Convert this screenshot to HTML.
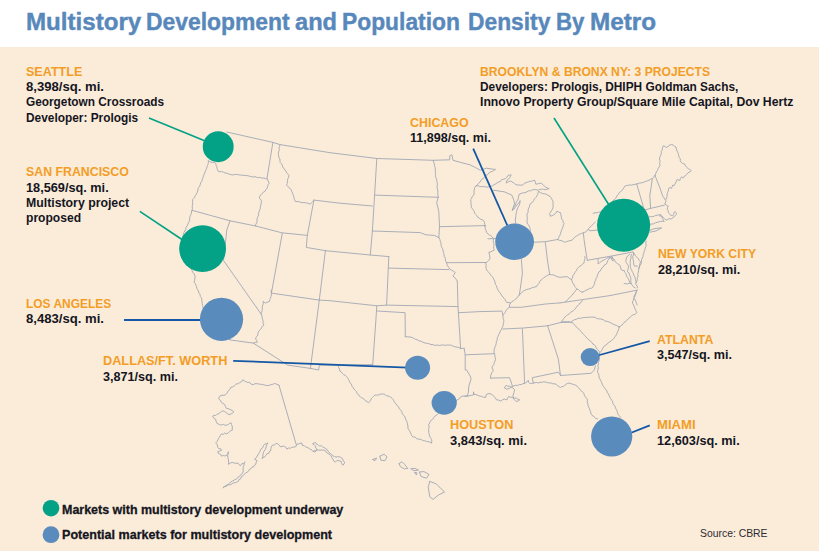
<!DOCTYPE html>
<html><head><meta charset="utf-8"><style>
html,body{margin:0;padding:0;}
body{width:819px;height:551px;overflow:hidden;position:relative;background:#fff;font-family:"Liberation Sans",sans-serif;}
#bg{position:absolute;left:0;top:47px;width:819px;height:504px;background:#faecd8;}
.t{position:absolute;white-space:nowrap;line-height:13px;transform-origin:0 0;}
.tw{position:absolute;top:10px;font-size:23px;font-weight:700;color:#5888bb;-webkit-text-stroke:0.4px #5888bb;white-space:nowrap;line-height:24px;transform-origin:0 0;}
svg{position:absolute;left:0;top:0;}
</style></head><body>
<div id="bg"></div>
<div class="tw" id="tw0" style="left:25.50px;transform:scaleX(1.0481)">Multistory</div><div class="tw" id="tw1" style="left:146.40px;transform:scaleX(0.9949)">Development</div><div class="tw" id="tw2" style="left:294.60px;transform:scaleX(1.0276)">and</div><div class="tw" id="tw3" style="left:342.20px;transform:scaleX(0.9925)">Population</div><div class="tw" id="tw4" style="left:467.70px;transform:scaleX(0.9916)">Density</div><div class="tw" id="tw5" style="left:556.00px;transform:scaleX(0.9663)">By</div><div class="tw" id="tw6" style="left:589.90px;transform:scaleX(1.0562)">Metro</div>
<svg width="819" height="551" viewBox="0 0 819 551">
<g fill="none" stroke="#a2a7b5" stroke-width="0.9" stroke-linejoin="round" stroke-linecap="round">
<path d="M226.8 132.0 L272.9 142.4 L280.1 144.6 L330.0 152.7 L376.8 158.5 L433.4 160.3 L449.7 159.8 L449.7 155.9 L451.9 154.8 L453.0 160.3 L460.6 162.4 L470.0 164.8 L475.4 167.5 L480.2 170.2 L486.3 168.2 L495.2 169.5 M495.2 169.5 L493.7 170.5 L492.3 171.5 L490.5 171.9 L489.0 172.9 L487.9 174.4 L486.3 175.3 L485.0 176.6 L483.8 178.1 L482.2 179.0 L481.0 180.4 L480.1 182.0 L478.6 183.2 L477.6 184.8 L476.1 185.9 M476.1 185.9 L477.8 185.8 L479.5 186.3 L481.2 186.8 L482.9 186.4 L484.6 186.7 L486.3 187.2 L488.2 186.9 L490.0 186.3 L491.8 186.1 L493.3 185.2 L495.1 184.2 L496.9 183.0 L498.7 182.0 L500.4 181.5 L501.4 179.9 L503.1 179.3 L505.3 178.7 L506.9 177.3 L508.0 175.4 L509.6 175.0 L511.2 174.9 L509.6 177.6 L508.5 179.2 L506.9 180.3 L506.3 183.1 L507.6 182.1 L509.2 181.5 L510.7 180.9 L511.9 182.1 L513.6 182.6 L514.7 183.8 L516.1 184.7 L517.9 185.0 L519.8 185.0 L521.6 185.3 L523.2 184.5 L524.7 183.3 L526.3 182.5 L528.1 182.0 L529.7 181.3 L531.4 181.3 L533.0 180.7 L534.7 180.3 L535.4 182.2 L535.8 184.2 L537.6 183.9 L539.4 183.4 L541.2 183.1 L543.0 184.6 L544.5 186.3 L545.8 187.3 L547.3 187.9 L548.8 188.5 M548.8 188.5 L547.3 189.3 L545.6 189.6 L543.4 189.3 L541.2 189.1 L539.5 189.6 L537.9 190.2 L535.8 189.6 L533.6 189.6 L531.9 190.0 L530.4 190.9 L528.5 190.8 L527.0 191.8 L524.9 192.7 L522.7 192.9 L521.1 193.5 L519.4 194.0 L518.6 196.1 L518.3 198.3 L517.8 199.9 L516.8 201.2 L516.1 202.7 L515.4 205.0 L514.0 207.0 L513.0 208.6 L512.3 210.3 L513.9 209.1 L515.1 207.6 L516.5 205.7 L517.8 203.8 L519.2 202.6 L520.0 201.0 M493.3 190.2 L504.2 191.8 L511.8 195.1 L514.0 200.5 L514.5 203.8 L513.4 207.0 L512.3 210.3 M520.0 201.0 L519.9 203.0 L519.4 204.9 L518.5 206.3 L517.9 207.7 L517.2 209.2 L516.6 211.4 L516.1 213.6 L515.9 215.8 L515.6 217.9 L515.3 220.1 L515.6 222.3 L515.1 224.2 L515.3 226.2 L515.0 228.1 L515.0 230.0 L515.2 231.6 L514.4 233.2 L514.3 234.8 L513.8 236.3 L514.0 238.0 M539.0 191.2 L538.0 192.7 L537.7 194.5 L536.8 196.1 L535.8 197.6 L534.5 198.9 L533.6 200.5 L532.3 202.5 L530.3 203.8 L529.6 205.6 L529.1 207.5 L528.1 209.2 L528.2 210.9 L527.9 212.6 L527.0 214.1 L527.0 215.8 L527.3 217.4 L527.2 219.1 L527.1 220.7 L527.0 222.3 L527.5 224.1 L529.0 225.4 L529.5 227.2 L530.3 228.8 L530.3 230.5 L530.0 232.2 L530.1 233.9 L530.1 235.6 L530.6 237.3 L530.5 239.0 L530.6 240.7 L530.5 242.4 M538.7 191.6 L540.5 192.7 L542.4 193.5 L544.5 193.8 L546.1 194.2 L547.5 195.0 L549.0 195.8 L550.3 196.7 L551.5 198.3 L552.2 200.1 L553.2 201.8 L552.9 203.6 L553.1 205.4 L553.1 207.2 L552.5 209.0 L551.6 210.5 L550.7 212.0 L549.6 213.4 L550.3 216.3 L552.1 215.6 L553.9 214.8 L555.7 213.3 L556.9 211.2 L558.6 212.1 L560.5 212.7 L560.8 214.3 L561.1 216.0 L561.4 217.6 L561.9 219.2 L563.0 220.5 L563.0 222.2 L564.1 223.5 L563.2 225.6 L562.7 227.9 L561.7 229.7 L561.0 231.7 L560.5 233.7 L559.9 235.2 L559.1 236.6 L558.6 238.2 L557.6 239.5 M522.0 242.8 L530.0 242.4 L545.2 241.7 L557.6 239.5 M557.6 239.5 L559.4 240.3 L561.3 240.6 L563.1 241.3 L564.8 242.4 L566.5 241.6 L568.4 241.0 L570.2 240.6 L572.1 240.2 L573.3 238.6 L574.7 237.4 L576.2 236.2 L577.9 235.2 L579.6 234.1 L581.5 233.6 L583.2 232.6 L585.2 232.2 L586.6 231.3 L587.6 230.0 L588.5 228.5 L589.7 227.4 L591.0 226.4 L592.3 224.9 L593.8 223.4 L595.3 222.1 M593.1 213.5 L595.0 212.7 L597.0 212.9 L598.9 212.1 L600.8 212.0 L602.4 211.0 L604.2 210.5 L606.0 210.0 L606.7 208.5 L607.7 207.2 L608.9 206.1 L609.9 204.8 L611.3 203.8 L611.8 202.2 L612.8 200.8 L614.1 199.8 L615.5 198.7 L616.3 197.1 L617.1 195.5 L618.5 194.3 L619.2 192.6 L620.7 191.5 L622.1 190.4 L623.1 189.0 L624.0 187.5 L625.0 186.0 L626.6 185.5 L628.2 185.3 L629.8 184.9 L631.5 185.1 L633.1 184.7 L634.8 184.6 L636.3 183.9 L638.0 183.8 L639.5 183.0 L641.3 182.9 L643.0 182.5 L644.6 181.8 L646.2 181.2 L647.8 180.7 L649.4 180.0 L650.9 179.0 L652.6 178.7 L653.7 177.2 L654.7 175.7 M588.8 229.3 L589.5 230.8 L597.5 230.1 M636.7 183.9 L640.0 195.3 L643.3 206.7 L644.9 210.0 M652.2 179.0 L651.4 185.5 L649.8 195.3 L650.6 208.4 M655.0 175.6 L660.1 188.3 L662.6 195.9 L665.2 199.7 M655.0 175.6 L655.7 173.8 L656.3 172.0 L657.5 170.5 L658.0 168.6 L659.1 167.0 L660.1 165.4 L659.7 163.8 L659.9 162.2 L660.0 160.6 L659.4 159.0 L659.8 157.1 L660.7 155.3 L661.3 153.4 L661.3 151.4 L662.4 149.6 L662.5 147.6 L663.3 145.7 L665.0 146.4 L666.4 147.6 L668.0 146.3 L669.7 145.2 L671.5 144.4 L673.1 145.0 L674.4 146.2 L676.0 147.0 L676.3 149.0 L677.0 150.9 L677.9 152.7 L678.4 154.3 L678.8 155.9 L679.2 157.5 L680.3 158.9 L680.3 160.7 L681.0 162.2 L682.7 163.5 L684.8 164.1 L685.5 165.8 L686.7 167.3 L688.1 168.6 L689.7 169.4 L691.2 170.5 L689.9 172.0 L688.0 172.8 L686.7 174.3 L685.6 175.7 L684.0 176.6 L683.0 178.1 L681.7 176.8 L680.4 178.5 L679.8 180.6 L677.2 179.4 L676.0 182.0 L675.1 183.9 L674.0 185.7 L672.8 185.0 L672.2 186.7 L671.5 188.3 L669.5 187.5 L668.5 189.0 L668.3 190.8 L667.5 192.6 L667.1 194.6 L667.0 196.4 L666.6 198.1 L665.8 199.7 L665.8 201.6 L665.2 203.5 M665.0 203.9 L666.4 205.3 L668.3 206.1 L667.5 207.6 L667.2 209.3 L668.2 210.6 L668.3 212.4 L669.3 213.7 L670.7 215.2 L672.6 215.9 L673.5 214.5 L673.9 212.9 L674.8 211.5 L677.0 213.7 L675.5 215.1 L674.3 216.8 L672.6 218.0 L671.1 219.0 L669.2 218.7 L667.7 219.5 L666.1 220.2 L664.5 218.6 L662.8 217.0 L661.3 216.1 L659.6 215.9 M644.9 210.0 L650.6 208.4 L664.5 205.1 M646.0 217.5 L648.7 217.0 L650.4 216.6 L652.2 216.7 L653.9 216.3 L655.5 215.5 L657.2 215.2 L659.0 214.9 L660.7 214.8 M660.7 214.8 L661.7 216.3 L662.2 218.1 L663.3 219.6 L663.9 221.3 M646.5 225.7 L648.3 225.1 L650.1 224.2 L652.0 224.0 L653.8 223.8 L655.4 222.8 L657.2 222.3 L659.0 221.9 L660.7 221.3 L663.9 221.3 M648.0 231.0 L655.0 228.5 L661.7 227.8 L656.0 231.0 L649.8 232.2 M646.1 241.2 L645.7 243.0 L646.1 244.7 L646.0 246.5 L645.1 248.0 L644.9 249.8 L644.3 251.4 L643.8 253.1 L643.2 254.7 L643.1 256.5 L642.2 258.0 L641.6 259.6 L641.5 261.5 L641.3 263.3 L640.5 265.0 L639.3 266.6 L638.5 268.5 M632.9 252.0 L634.3 253.4 L635.0 255.3 L636.7 256.9 L638.3 258.5 L639.1 260.3 L640.5 261.8 L639.9 263.9 L639.4 266.1 L639.4 267.8 L638.8 269.4 L638.5 271.0 L638.3 272.7 L637.6 274.3 L638.3 276.0 L637.4 277.6 L637.2 279.2 L637.0 281.0 L636.1 282.5 M633.4 253.1 L633.5 254.9 L632.7 256.7 L632.9 258.5 L633.3 260.4 L633.6 262.3 L633.7 264.3 L634.5 266.1 L637.2 266.1 M631.8 254.2 L630.8 256.0 L631.1 258.0 L630.4 259.9 L630.2 261.8 L630.3 263.4 L630.4 265.1 L630.3 266.7 L630.7 268.3 L631.5 269.7 L632.1 271.3 L632.9 272.7 L633.7 274.1 L633.8 275.8 L635.1 277.0 L635.3 279.3 L636.1 281.4 L635.9 283.1 L636.0 284.8 L637.3 286.2 L637.2 287.9 M629.6 254.2 L628.4 255.6 L626.9 256.7 L626.3 258.5 L625.8 260.7 L626.3 262.9 L627.5 264.1 L628.2 265.5 L628.5 267.2 L628.0 269.4 L627.4 271.6 L629.0 272.9 L629.6 274.9 L630.3 276.6 L630.9 278.4 L630.7 280.3 L631.0 282.6 L631.8 284.7 L633.2 286.6 L635.1 287.9 M610.0 257.4 L611.5 258.3 L613.3 258.5 L614.6 260.0 L615.4 261.8 L616.7 263.1 L618.2 264.1 L619.8 265.1 L620.7 267.2 L620.9 269.4 L622.4 270.3 L624.2 270.5 L624.5 272.1 L625.8 273.3 L626.3 274.9 L626.7 276.5 L627.8 277.7 L628.5 279.2 L629.2 280.7 L629.6 282.3 L630.7 283.6 L629.1 283.3 L627.5 283.9 L625.8 283.7 L624.2 283.6 M598.1 259.0 L598.1 260.7 L598.2 262.4 L598.1 264.1 L599.6 262.6 L601.4 261.4 L603.2 260.3 L605.0 259.6 L606.4 258.2 L608.3 257.8 L610.2 257.2 L612.1 256.5 L612.8 258.4 L613.3 260.3 M587.3 260.3 L610.0 256.3 L632.9 252.0 M583.4 233.3 L584.1 240.0 L586.0 252.7 L587.3 260.3 M584.8 256.5 L585.1 258.1 L584.6 259.7 L584.2 261.3 L584.1 262.9 L582.4 264.2 L580.9 265.7 L579.0 266.7 L577.4 268.4 L576.5 270.5 L575.0 272.3 L574.0 274.3 L572.8 275.8 L572.6 277.9 L571.4 279.4 M571.4 279.4 L572.2 281.2 L572.7 283.2 L574.0 284.4 L574.4 286.2 L575.7 287.4 L576.5 288.9 L578.1 289.4 L579.4 290.4 L580.6 291.6 L582.2 292.1 M582.2 292.1 L584.2 291.5 L585.9 290.2 L587.9 289.5 L589.5 288.4 L591.5 288.2 L593.0 287.0 L593.7 285.4 L594.5 283.9 L594.6 282.1 L595.6 280.6 L595.9 278.7 L597.0 277.2 L597.4 275.4 L598.1 273.7 L598.7 272.0 L600.3 271.0 L601.1 269.4 L601.9 267.9 L603.4 266.8 L604.2 265.1 L605.9 264.4 L607.0 262.9 L607.6 260.8 L608.9 259.0 L610.8 257.1 L611.5 259.2 L612.7 261.0 M576.5 289.5 L571.4 295.9 L565.1 302.2 M507.3 302.4 L508.9 302.6 L510.5 302.9 L511.8 301.7 L513.4 300.8 L514.8 299.7 L516.5 298.5 L517.6 296.6 L519.2 295.3 L520.4 293.6 L522.1 292.4 L523.5 290.9 L525.1 290.2 L526.6 289.5 L528.3 289.0 L530.0 288.8 L531.5 287.9 L533.2 287.4 L534.9 287.0 L536.6 286.6 L537.5 284.9 L538.9 283.5 L539.7 281.6 L540.9 280.1 L542.4 279.0 L543.7 277.7 L545.3 276.8 L546.7 275.9 L548.0 274.9 L549.7 274.6 L551.5 274.7 L553.4 274.9 L555.1 275.7 L556.7 276.5 L558.4 276.9 L560.0 277.5 L561.7 277.0 L563.4 277.0 L565.1 276.8 L567.6 276.8 L569.3 278.4 L571.4 279.4 M545.3 242.0 L547.4 260.0 L549.7 274.6 M521.4 259.4 L522.4 273.5 L520.3 288.8 L519.2 295.3 M509.4 307.3 L521.4 307.3 L545.3 304.0 L560.0 302.9 M582.3 300.7 L581.5 302.2 L579.9 303.0 L579.1 304.4 L578.0 305.6 L576.6 306.6 L575.8 308.1 L574.7 309.3 L573.6 310.5 L572.0 311.5 L570.4 312.4 L569.3 313.9 L567.6 314.7 L566.2 315.9 L564.9 317.1 L563.7 318.4 L562.8 319.9 L561.7 321.2 L560.5 322.5 L562.2 321.9 L563.9 321.7 L565.7 321.5 L567.5 321.8 L569.2 321.4 M502.9 329.0 L523.5 328.0 L547.5 325.8 L560.5 322.5 L571.4 322.2 M570.3 322.5 L571.7 321.4 L573.2 320.5 L574.7 319.6 L576.6 319.3 L578.0 318.2 L579.7 318.4 L581.4 318.1 L583.1 317.6 L584.7 317.5 L586.4 317.4 L588.1 317.4 L589.8 317.0 L591.5 317.2 L593.2 317.1 L595.0 317.3 L596.6 318.4 L598.3 318.8 L600.1 318.9 L601.9 319.3 L603.6 319.8 L604.9 321.1 L606.7 321.2 L608.3 321.9 L610.0 322.3 L611.4 323.3 L613.0 324.1 L614.6 324.8 L616.2 325.3 L617.7 326.2 L619.3 326.9 M571.4 322.2 L572.9 323.1 L574.0 324.5 L575.3 325.6 L576.3 327.0 L577.7 328.0 L579.0 329.2 L580.0 330.6 L581.3 331.7 L582.3 333.1 L583.4 334.3 L584.7 335.5 L585.7 336.8 L587.0 337.9 L588.1 339.1 L589.2 340.4 L590.7 341.3 L591.9 342.4 L592.7 344.0 L594.4 344.7 L595.4 346.1 L596.3 347.9 L597.4 349.5 L599.0 350.8 L599.7 352.7 M599.7 352.7 L601.1 351.2 L602.2 349.6 L603.1 347.8 L604.1 346.1 L605.7 345.2 L607.2 344.2 L608.3 342.6 L609.9 341.8 L611.4 340.7 L612.8 339.6 L614.1 338.1 L615.2 336.5 L616.3 334.9 L617.1 333.1 L617.7 331.5 L618.5 329.9 L618.9 328.2 L619.3 326.5 L619.3 326.9 M636.7 291.0 L635.9 292.5 L635.7 294.2 L635.2 295.8 L634.5 297.3 L633.7 298.8 L633.3 300.4 L632.4 301.8 L632.7 303.5 L633.6 304.9 L634.1 306.5 L634.8 308.1 L635.3 309.6 L636.1 311.1 L636.7 312.7 L635.3 314.2 L633.3 314.7 L631.7 315.8 L630.2 317.1 L629.0 318.2 L627.8 319.3 L626.5 320.3 L625.6 321.7 L624.0 322.4 L623.1 323.8 L622.0 325.0 L620.7 326.0 L619.3 326.9 M560.0 302.9 L610.0 295.6 L637.2 290.1 M637.2 290.1 L636.2 291.7 L635.8 293.5 L634.5 295.0 L633.9 296.7 L634.1 298.5 L635.2 300.0 L635.9 301.6 L636.5 303.3 L637.1 304.9 M522.4 328.7 L524.6 383.1 M547.5 325.4 L558.4 359.2 L560.5 375.5 M533.3 383.1 L532.2 377.7 L558.4 372.2 L560.5 375.5 L591.0 373.3 L594.3 370.1 L595.4 365.7 M465.0 396.5 L466.7 396.3 L468.4 396.1 L470.1 395.6 L471.8 395.3 L473.5 394.8 L473.5 391.8 L474.0 394.4 L475.9 394.6 L477.8 395.2 L479.5 396.1 L481.5 396.3 L483.5 397.2 L485.5 397.4 L486.4 394.4 L488.9 393.5 L490.7 394.0 L492.4 394.8 L493.6 396.1 L494.9 397.4 L496.6 399.9 L498.9 400.1 L500.9 401.2 L502.4 399.8 L504.3 399.1 L506.9 399.9 L507.6 398.1 L508.6 396.5 L510.3 397.1 L512.0 397.4 L514.1 398.0 L516.3 398.2 L517.9 399.2 L519.7 399.9 L517.1 401.6 L515.3 400.5 L513.7 399.1 L513.3 397.3 L512.9 395.6 L513.5 393.9 L514.1 392.2 L514.6 389.7 L512.9 387.9 L511.1 387.1 L509.4 386.2 L507.6 386.1 L506.0 385.4 L504.3 387.9 L506.9 389.2 L509.2 388.5 L511.2 387.1 L513.2 386.0 L515.4 385.4 L517.6 385.4 L519.7 384.5 L521.5 384.6 L523.0 383.5 L524.8 383.7 L525.9 382.5 L527.3 381.6 L528.2 380.3 L528.7 382.2 L529.9 383.7 L531.6 383.4 L533.3 383.1 L535.0 382.7 L536.7 382.5 L538.5 383.0 L540.1 382.2 L541.9 382.4 L543.6 381.8 L545.3 382.0 L547.1 382.4 L548.9 383.1 L550.8 382.8 L552.5 383.7 L554.4 383.8 L556.2 384.2 L557.4 385.6 L559.0 386.5 L560.5 387.5 L561.8 386.6 L563.6 386.4 L564.8 385.3 L566.1 384.2 L567.5 383.4 L569.2 383.1 L570.9 383.6 L572.5 384.2 L574.2 384.6 L575.8 385.3 L577.3 386.4 L578.5 387.8 L579.8 389.1 L580.8 390.7 L582.3 391.8 L583.8 393.2 L584.3 395.2 L585.3 396.9 L586.7 398.4 L587.5 400.1 L587.2 402.0 L587.8 403.7 L588.0 405.4 L588.8 407.1 L589.5 408.7 L590.0 410.3 L590.5 411.9 L591.0 413.6 L592.1 415.4 L593.9 416.6 L595.4 418.0 L597.6 419.0 M599.7 352.7 L599.6 354.3 L599.4 356.0 L599.4 357.6 L599.4 359.2 L599.1 360.9 L598.3 362.4 L598.6 364.1 L597.8 365.7 L598.3 367.4 L598.1 369.0 L597.7 370.6 L597.5 372.2 L598.4 373.7 L598.9 375.3 L599.0 377.0 L599.7 378.6 L600.4 380.1 L601.2 381.6 L601.9 383.1 L602.5 384.8 L603.4 386.4 L604.6 387.8 L605.4 389.4 L606.9 390.7 L607.3 392.5 L608.4 394.0 L609.2 395.5 L609.8 397.2 L610.6 398.7 L611.7 400.1 L612.7 401.6 L612.8 403.5 L613.9 404.9 L615.0 406.3 L615.5 408.0 L616.3 409.5 L617.1 411.0 L617.6 412.8 L618.1 414.4 L619.3 415.8 L620.8 417.6 M490.6 378.1 L509.4 377.7 L511.2 382.0 L512.4 386.2 M484.5 225.7 L485.2 227.4 L485.4 229.2 L486.2 230.9 L486.6 232.7 L487.9 233.8 L489.3 234.8 L490.7 235.7 L492.1 236.8 L493.2 238.1 L493.6 239.8 L493.2 241.6 L493.7 243.2 L494.1 244.9 L493.6 246.7 L493.7 248.4 L494.3 250.1 L492.5 250.9 L490.8 251.9 L488.8 252.3 L489.3 253.9 L489.7 255.5 L489.8 257.2 L489.9 258.8 L488.7 260.5 L487.2 261.9 L485.6 263.2 L486.1 264.8 L486.0 266.5 L486.0 268.1 L486.6 269.7 L487.5 271.2 L488.8 272.4 L489.9 273.8 L490.9 275.2 L492.1 276.5 L493.1 277.9 L493.8 279.4 L494.7 280.9 L495.1 282.5 L495.2 284.3 L496.5 285.6 L496.8 287.2 L497.4 288.8 L498.2 290.3 L498.9 291.8 L500.3 292.9 L501.2 294.4 L501.9 295.9 L503.2 297.1 L504.1 298.4 L505.2 299.8 L505.9 301.4 L507.3 302.4 M510.5 302.9 L509.6 305.0 L509.4 307.3 L507.5 308.7 L506.1 310.5 L505.4 312.2 L504.3 313.7 L502.9 314.9 L503.0 316.6 L503.0 318.2 L503.7 319.8 L503.9 321.4 L503.3 323.3 L503.3 325.3 L502.4 327.1 L501.8 329.0 L500.4 330.9 L499.6 333.1 L498.7 334.7 L498.0 336.5 L497.2 338.2 L497.2 340.1 L496.3 341.8 L496.2 343.6 L495.7 345.4 L495.0 347.0 L494.4 348.7 L494.1 350.5 L494.0 352.3 L494.5 354.0 L494.9 355.7 L495.1 357.5 L495.7 359.2 L495.0 361.0 L494.2 362.7 L493.9 364.6 L492.5 366.1 L492.0 367.9 L493.2 370.0 L492.8 371.6 L491.6 372.8 L491.1 374.4 L490.6 376.0 L490.6 378.1 M488.0 238.8 L497.0 238.6 M458.4 312.7 L480.0 311.6 L501.9 311.1 L502.9 314.9 M465.2 354.8 L494.1 353.7 M464.1 348.3 L465.2 354.8 L465.2 370.0 L466.7 370.0 L470.6 376.8 L471.0 379.4 L468.8 386.2 L468.4 392.2 L467.6 395.6 M405.3 336.7 L407.2 336.8 L409.0 336.9 L410.9 337.2 L412.7 337.7 L414.3 338.6 L415.9 339.5 L417.7 339.9 L419.2 341.0 L421.0 341.2 L422.5 342.1 L424.1 342.7 L425.8 343.2 L427.6 343.5 L429.3 343.8 L431.0 344.6 L432.9 344.5 L434.5 345.4 L436.2 345.1 L438.0 345.2 L439.7 345.5 L441.5 345.1 L443.2 344.9 L444.9 345.3 L446.7 345.1 L448.4 345.0 L450.2 345.1 L451.9 345.4 L453.5 346.4 L455.3 346.9 L457.2 347.2 L459.0 347.6 L460.6 348.6 L462.3 348.4 L464.1 348.3 M458.4 312.7 L460.6 348.6 M457.3 281.2 L458.0 306.6 L458.4 312.7 M319.3 300.1 L330.0 300.7 L376.8 305.8 L386.6 305.1 L458.0 306.6 M376.8 311.0 L405.1 312.7 L405.3 336.7 M376.8 305.8 L375.9 320.0 L372.7 364.6 M310.4 368.4 L318.6 370.0 L319.4 365.1 L338.2 365.1 L372.7 364.6 M338.2 365.1 L338.6 367.2 L339.5 369.1 L340.0 371.2 L341.4 372.1 L342.5 373.5 L343.7 374.7 L345.4 375.3 L346.5 376.6 L347.8 377.9 L348.5 379.6 L349.4 381.2 L350.1 382.9 L351.4 384.2 L351.9 386.1 L353.1 387.5 L354.0 389.1 L355.3 390.4 L356.6 391.7 L357.1 393.6 L358.7 394.6 L359.6 396.2 L360.9 397.5 L362.6 398.2 L364.1 399.2 L365.3 400.7 L367.0 401.5 L368.3 402.7 L369.7 401.7 L370.5 400.2 L371.3 398.7 L372.4 397.5 L373.7 396.3 L374.8 395.1 L376.6 395.0 L378.3 395.1 L380.0 394.1 L381.7 394.1 L383.5 394.0 L385.1 394.5 L386.2 395.8 L388.0 395.9 L389.5 396.6 L390.9 397.3 L392.2 398.4 L393.4 399.8 L394.1 401.5 L395.2 403.0 L396.4 404.3 L397.3 405.9 L398.8 407.1 L399.4 408.9 L400.8 410.1 L401.8 411.6 L402.2 413.5 L403.3 415.0 L404.7 416.2 L405.3 418.0 L405.9 419.8 L406.8 421.5 L407.4 423.3 L407.7 425.1 L408.0 426.9 L408.0 428.7 L409.0 430.0 L409.9 431.3 L410.5 432.9 L411.2 434.3 L411.8 435.8 L413.2 437.0 L415.2 437.1 L416.5 438.6 L418.3 439.1 L420.0 439.2 L421.6 439.8 L423.2 440.6 L424.9 440.7 L426.4 441.5 L428.2 441.7 L429.9 442.0 L431.4 442.9 M467.6 395.6 L465.7 395.8 L463.8 396.1 L461.9 396.2 L460.4 397.0 L459.5 398.6 L458.1 399.5 L456.5 400.2 L455.4 401.6 L454.3 402.9 L452.8 403.5 L451.2 404.1 L449.9 405.1 L448.9 406.6 L447.6 407.5 L446.3 408.4 L444.5 408.7 L443.5 410.1 L441.9 410.6 L440.5 411.5 L439.4 412.8 L438.0 413.6 L436.8 415.0 L435.1 415.9 L434.0 417.4 L432.9 419.0 L431.4 420.1 L430.3 421.4 L429.7 423.1 L428.7 424.4 L428.9 426.0 L429.1 427.6 L428.5 429.3 L428.7 430.9 L428.7 432.6 L429.4 434.2 L429.5 435.9 L430.3 437.4 L431.5 439.5 L431.9 441.8 L431.4 442.9 M388.8 256.6 L388.3 268.1 L386.6 305.1 M388.3 268.1 L448.6 269.6 M325.4 250.7 L370.3 255.0 L388.8 256.6 M372.4 231.1 L370.3 255.0 M372.4 231.0 L420.3 232.6 L425.8 234.8 L434.5 235.4 L438.8 237.6 M438.8 237.6 L439.8 239.3 L440.3 241.3 L441.0 243.1 L441.0 244.9 L441.5 246.7 L442.4 248.3 L443.0 250.0 L443.2 251.8 L443.7 253.3 L444.1 254.9 L444.2 256.6 L445.4 257.9 L445.3 259.7 L445.8 261.2 L446.5 262.7 L447.0 264.5 L447.9 266.1 L448.8 267.6 L449.7 269.2 L451.6 270.1 L453.4 271.2 L455.2 272.4 L454.2 274.1 L453.0 275.7 L453.9 277.2 L455.4 278.2 L456.4 279.7 L457.3 281.2 M446.5 262.7 L485.6 262.5 M439.5 226.7 L485.6 225.6 M438.2 197.3 L436.7 202.7 L438.8 211.4 L439.5 226.7 L438.8 237.6 M433.4 160.3 L433.5 162.1 L434.4 163.9 L434.5 165.7 L435.1 167.3 L435.4 169.0 L435.2 170.8 L435.6 172.5 L435.3 174.3 L435.6 175.9 L435.8 177.7 L436.7 179.3 L436.7 181.0 L437.2 182.6 L437.4 184.2 L437.2 185.9 L437.1 187.5 L437.5 189.1 L437.8 190.8 L437.8 192.4 L437.8 194.0 L437.9 195.7 L438.2 197.3 M374.6 195.1 L438.2 197.3 M376.8 158.5 L374.6 195.1 L372.4 231.0 M313.9 200.1 L340.0 203.2 L372.4 206.0 M476.1 185.9 L474.8 187.2 L474.4 188.9 L474.1 190.6 L474.1 192.3 L474.1 194.0 L473.5 195.6 L472.1 196.6 L471.7 198.2 L470.7 199.5 L470.8 201.1 L471.1 202.7 L470.9 204.4 L471.5 206.0 L471.4 207.6 L472.5 208.8 L473.3 210.2 L474.3 211.5 L474.6 213.2 L475.7 214.4 L476.8 215.7 L477.5 217.1 L479.1 217.9 L480.3 219.2 L482.1 219.7 L483.6 220.5 L484.5 222.3 L484.7 224.3 L485.6 226.0 M280.1 144.6 L279.6 146.2 L279.0 147.7 L279.4 149.5 L278.8 151.1 L278.4 152.7 L278.4 154.4 L278.7 156.0 L278.9 157.6 L279.9 159.1 L280.0 160.8 L280.1 162.4 L281.4 163.7 L282.3 165.2 L282.6 167.0 L283.9 168.3 L284.6 169.9 L286.0 171.1 L286.6 172.8 L287.9 174.0 L288.8 175.5 L288.7 177.2 L287.9 178.7 L287.4 180.3 L287.7 182.1 L287.0 183.6 L286.7 185.3 L288.1 186.8 L289.7 188.1 L291.0 189.7 L291.7 191.4 L292.6 193.0 L293.1 194.7 L293.7 196.4 L294.1 198.2 L294.6 199.9 L295.4 201.6 L297.1 201.6 L298.8 201.7 L300.5 202.2 L302.1 202.7 L303.9 202.5 L305.6 202.9 L307.3 203.0 L308.9 203.8 L310.6 203.8 L312.3 202.2 L313.9 200.5 M313.9 200.1 L307.3 235.4 L306.3 247.4 L325.4 250.7 M325.4 250.7 L319.3 300.1 L312.8 350.0 L310.4 368.4 M271.4 293.1 L319.3 300.1 M282.3 233.3 L271.4 293.1 M271.2 290.0 L271.4 293.1 L271.4 294.8 L271.0 296.5 L270.4 298.1 L269.9 299.7 L269.6 301.4 L267.5 302.1 L265.5 303.1 L263.1 301.4 L263.3 303.1 L263.0 304.7 L262.3 306.3 L262.3 308.0 L262.2 309.6 L262.0 311.2 L261.2 312.8 L261.4 314.5 L262.0 316.2 L262.2 318.0 L262.8 319.8 L263.1 321.5 L263.2 323.4 L263.9 325.1 L262.3 326.2 L261.5 328.0 L260.4 329.6 L259.0 330.8 L258.1 332.4 L257.9 334.2 L257.4 335.9 L256.0 337.2 L255.7 339.0 L256.6 340.6 L257.3 342.2 L255.2 342.4 L253.3 343.1 M230.0 220.8 L226.8 230.0 L223.5 260.5 L261.4 314.5 M230.0 339.9 L253.3 343.1 L287.6 365.1 L310.4 368.4 M192.0 210.3 L230.0 220.8 L255.7 226.0 L281.9 232.8 L307.3 235.4 M267.1 178.8 L268.2 180.9 L269.2 183.1 L268.1 184.6 L267.6 186.4 L267.1 188.2 L266.0 189.7 L264.9 191.4 L263.2 192.4 L261.8 193.7 L260.5 195.1 L259.6 196.6 L259.5 198.4 L260.9 199.8 L261.6 201.6 L261.1 203.2 L260.9 204.9 L260.4 206.5 L260.3 208.2 L259.8 209.8 L259.2 211.4 L258.5 212.9 L258.8 214.7 L258.1 216.2 L257.4 217.8 L256.9 219.4 L257.1 221.2 L256.8 222.8 L255.7 224.3 L255.7 226.0 M272.9 142.4 L267.1 177.7 M209.4 161.4 L210.9 162.3 L212.7 162.4 L214.4 162.6 L215.9 163.5 L216.0 165.1 L216.9 166.6 L216.9 168.2 L217.6 169.7 L218.1 171.2 L219.8 171.8 L221.8 171.6 L223.5 172.2 L225.0 173.0 L226.8 173.1 L228.4 173.8 L230.0 174.4 L231.7 174.8 L233.5 174.9 L235.3 174.4 L237.1 174.5 L238.8 174.9 L240.6 175.0 L242.4 175.3 L244.3 175.4 L246.1 175.4 L247.9 175.8 L249.7 176.2 L251.4 176.7 L253.1 177.1 L255.0 176.6 L256.7 177.3 L258.4 177.7 L260.2 177.3 L261.8 178.3 L263.7 177.9 L265.3 178.6 L267.1 178.8 M208.3 160.3 L208.3 163.5 L207.7 165.1 L207.0 166.6 L206.7 168.3 L206.0 169.8 L205.2 171.4 L204.8 173.0 L204.0 174.5 L203.5 176.1 L202.9 177.7 L202.3 179.4 L202.0 181.1 L200.8 182.5 L200.3 184.2 L199.8 185.9 L198.7 187.4 L198.0 189.0 L197.7 190.8 L197.2 192.5 L196.3 194.0 L195.4 195.4 L194.7 196.9 L193.8 198.3 L192.6 199.5 L192.6 201.3 L192.8 203.1 L192.4 204.9 L192.2 206.7 L192.5 208.5 L192.0 210.3 L191.4 212.0 L191.4 213.8 L190.4 215.4 L189.9 217.1 L189.6 218.9 L189.6 220.7 L188.7 222.3 L187.9 224.0 L187.2 225.8 L186.0 227.4 L185.9 229.4 L184.8 231.0 M184.8 231.0 L183.9 232.7 L183.3 234.5 L182.9 236.3 L182.3 238.1 L182.0 240.0 L181.9 241.7 L180.8 243.1 L180.8 244.8 L180.0 246.3 L180.0 248.0 L180.3 249.7 L181.6 251.0 L181.8 252.8 L182.3 254.4 L183.7 255.6 L184.1 257.3 L184.5 259.0 L185.6 260.3 L186.0 262.0 L186.7 263.6 L188.2 264.6 L188.8 266.3 L190.3 267.3 L191.0 268.9 L192.0 270.3 L192.5 272.1 L193.8 273.4 L194.6 275.1 L195.2 276.8 L194.8 278.6 L194.6 280.4 L194.1 282.2 L195.2 283.5 L195.8 285.0 L196.6 286.5 L196.7 288.2 L197.6 289.6 L198.5 291.0 L198.8 292.9 L200.1 294.4 L200.2 296.3 L201.5 297.8 L201.8 299.7 L202.0 301.6 L202.2 303.5 L202.7 305.4 L202.9 307.3 L203.3 308.9 L204.3 310.3 L205.0 311.7 L205.4 313.3 L206.8 314.5 L206.8 316.3 L207.8 317.6 L208.7 319.0 L209.0 320.6 L210.0 322.0 L211.3 322.9 L212.1 324.5 L213.6 325.4 L214.9 326.3 L215.8 327.7 L217.2 328.6 L218.6 329.5 L219.5 331.0 L221.1 331.6 L222.0 333.0 L223.1 334.4 L224.8 335.1 L225.9 336.5 L227.0 337.9 L228.6 338.8 L230.0 339.9 M279.0 385.3 L276.9 384.2 L274.6 383.5 L272.5 384.4 L270.3 384.8 L268.7 385.5 L267.1 385.5 L265.4 385.3 L263.8 384.8 L262.2 384.4 L260.5 384.3 L258.9 384.0 L257.2 383.7 L254.9 383.7 L252.9 384.8 L250.9 384.0 L249.6 382.4 L247.4 382.3 L245.3 381.5 L244.0 380.5 L242.5 379.9 L241.6 381.7 L239.8 382.6 L238.4 383.8 L236.6 383.7 L234.4 385.9 L232.6 386.9 L230.6 387.5 L229.7 389.7 L227.9 391.3 L227.0 393.1 L225.7 394.6 L223.9 395.3 L222.0 395.2 L220.2 395.7 L219.3 397.2 L218.6 398.9 L220.3 400.3 L221.3 402.2 L222.9 403.4 L224.6 404.4 L225.4 406.3 L226.2 408.2 L228.4 408.7 L230.6 409.8 L232.5 410.5 L233.8 412.0 L231.7 413.6 L228.9 414.7 L226.8 413.1 L224.6 411.5 L222.9 410.9 L221.3 411.5 L220.1 412.7 L218.7 413.7 L217.0 414.2 L215.8 415.4 L214.0 415.4 L212.6 416.3 L213.9 418.3 L215.9 419.6 L216.1 421.6 L217.0 423.4 L218.7 424.1 L220.2 425.1 L221.8 424.8 L223.5 424.4 L225.2 425.3 L226.8 425.1 L228.3 424.4 L229.6 423.4 L231.1 422.9 L231.5 424.6 L232.2 426.1 L232.3 428.1 L232.3 430.1 L230.5 430.7 L229.2 432.0 L227.9 433.3 L226.3 433.8 L224.6 433.0 L223.2 434.4 L221.5 433.9 L220.2 435.8 L219.0 437.7 L218.0 439.5 L217.2 441.3 L215.8 442.8 L217.3 444.8 L217.7 447.2 L218.7 448.6 L220.7 448.8 L221.5 450.4 L219.6 451.0 L217.7 451.7 L218.5 453.6 L220.6 454.3 L221.5 456.1 L223.2 455.5 L224.9 455.9 L226.6 455.5 L227.6 453.6 L228.5 451.7 L228.1 453.8 L227.7 455.9 L227.9 458.0 L228.5 459.6 L228.5 461.2 L228.6 462.8 L228.5 464.4 L230.4 462.9 L232.9 462.5 L234.5 463.2 L236.3 463.3 L238.0 463.1 L239.1 464.6 L240.6 465.6 L241.6 463.8 L243.8 463.4 L245.0 461.8 L244.2 463.3 L244.1 465.0 L243.3 466.5 L243.1 468.2 L243.2 470.1 L243.1 472.0 L242.1 473.5 L240.9 474.9 L239.5 476.1 L238.0 477.1 L236.7 478.9 L234.7 479.8 L232.9 480.9 L231.0 481.9 L229.4 483.2 L227.9 484.7 L225.9 485.4 L224.3 486.6 L222.8 487.9 L224.2 486.8 L226.0 486.4 L227.5 485.4 L229.1 484.7 L230.8 484.6 L232.2 483.7 L233.6 482.8 L235.2 482.8 L236.7 482.1 L238.4 481.3 L239.0 479.3 L240.9 478.7 L241.3 476.6 L243.1 475.8 L244.1 474.3 L245.4 473.0 L247.1 472.2 L248.6 471.1 L249.4 469.4 L250.9 468.7 L251.8 467.2 L253.6 466.8 L254.4 465.2 L255.8 464.4 L256.1 462.4 L257.1 460.6 L254.5 459.3 L256.2 457.9 L257.2 456.0 L258.3 454.2 L259.4 452.6 L260.2 450.9 L260.9 449.1 L262.7 447.8 L263.4 445.7 L264.7 444.0 L266.5 443.8 L267.9 442.8 L267.0 444.4 L266.2 446.0 L266.0 447.9 L265.2 449.6 L264.0 451.1 L263.4 452.9 L262.9 454.8 L262.8 456.8 L262.1 458.7 L263.1 457.3 L264.8 456.7 L266.0 455.5 L266.8 453.8 L268.9 453.4 L269.4 451.3 L271.0 450.4 L270.8 448.5 L271.3 446.9 L272.3 445.3 L274.5 444.9 L276.1 443.4 L277.7 443.7 L279.3 445.2 L280.5 446.9 L283.2 446.0 L284.8 446.7 L286.1 447.6 L286.9 449.2 L288.2 448.0 L290.1 448.3 L291.5 447.4 L293.8 447.1 L296.1 446.5 L296.5 444.2 L298.3 444.0 L300.0 443.6 L301.6 442.8 L302.5 445.6 L304.3 445.6 L305.5 446.9 L307.1 447.4 L308.7 448.0 L309.9 449.3 L311.6 449.7 L312.7 451.2 L314.4 452.0 L316.1 451.0 L317.1 449.2 L315.7 448.2 L315.7 446.2 L314.4 445.1 L312.5 443.7 L315.3 442.4 L316.3 444.0 L318.0 444.7 L319.3 446.0 L321.3 445.7 L322.6 446.9 L324.2 447.6 L325.7 448.6 L327.1 449.5 L328.1 451.1 L329.1 452.6 L330.4 453.6 L331.8 454.5 L332.9 455.8 L334.5 456.6 L336.1 457.0 L337.7 456.8 L339.4 456.7 L340.9 457.5 L342.6 458.7 L343.1 460.8 L344.6 462.1 L344.1 463.9 L342.8 465.3 L341.6 463.3 L340.9 461.1 L339.1 460.8 L337.3 460.2 L335.4 462.1 L333.8 461.0 L333.0 459.3 L331.9 457.8 L331.3 456.0 L330.0 454.7 L328.3 453.7 L326.6 452.6 L325.5 450.7 L323.5 450.1 L321.2 450.1 L319.0 450.1 L317.1 449.9 L315.3 450.6 L313.5 451.1 M279.0 385.3 L296.1 444.2 M372.7 459.5 L376.7 458.1 L375.0 460.7 L372.7 459.5 M379.9 456.2 L384.1 454.2 L387.0 456.9 L385.0 460.7 L380.8 460.2 L379.9 456.2 M399.1 463.5 L402.0 461.8 L404.5 464.3 L407.8 468.4 L404.5 468.9 L400.4 466.7 L399.1 463.5 M411.0 468.8 L415.0 468.4 L418.4 470.0 L414.0 470.8 L411.0 468.8 M414.8 472.6 L417.0 472.8 L416.5 474.9 L414.8 472.6 M419.5 472.0 L424.0 471.6 L429.0 474.5 L426.5 478.2 L421.0 476.5 L419.5 472.0 M429.8 481.4 L436.3 483.9 L441.2 488.8 L444.5 492.0 L438.0 495.3 L433.1 499.4 L429.8 496.9 L429.0 492.0 L428.2 487.1 L429.8 481.4"/>
</g>

<line x1="149" y1="118" x2="204" y2="140.5" stroke="#03a185" stroke-width="1.6"/>
<line x1="139.8" y1="211.3" x2="182" y2="239.5" stroke="#03a185" stroke-width="1.6"/>
<line x1="554" y1="118" x2="609" y2="205" stroke="#03a185" stroke-width="1.6"/>
<line x1="473.2" y1="148.7" x2="508" y2="227" stroke="#1357a6" stroke-width="1.8"/>
<line x1="124" y1="320" x2="205" y2="320" stroke="#1357a6" stroke-width="2"/>
<line x1="233.2" y1="360.8" x2="408" y2="367.6" stroke="#1357a6" stroke-width="1.8"/>
<line x1="649.7" y1="341.2" x2="596" y2="356" stroke="#1357a6" stroke-width="1.8"/>
<line x1="649.8" y1="425.4" x2="628" y2="434" stroke="#1357a6" stroke-width="1.8"/>
<ellipse cx="218.2" cy="146.7" rx="15.45" ry="15.45" fill="#03a185"/>
<ellipse cx="202.6" cy="248.6" rx="23.4" ry="23.4" fill="#03a185"/>
<ellipse cx="623.6" cy="225.3" rx="26.6" ry="26.5" fill="#03a185"/>
<ellipse cx="221.5" cy="319.3" rx="21.6" ry="21.6" fill="#5a8bbd"/>
<ellipse cx="417.6" cy="367.7" rx="12.5" ry="12.0" fill="#5a8bbd"/>
<ellipse cx="444.2" cy="402.8" rx="12.6" ry="11.9" fill="#5a8bbd"/>
<ellipse cx="514.6" cy="241.8" rx="19.4" ry="18.2" fill="#5a8bbd"/>
<ellipse cx="590.1" cy="357.1" rx="9.4" ry="9.0" fill="#5a8bbd"/>
<ellipse cx="611.7" cy="436.4" rx="20.6" ry="20.0" fill="#5a8bbd"/>
<ellipse cx="51" cy="508.2" rx="8.3" ry="8.3" fill="#03a185"/>
<ellipse cx="51" cy="534.7" rx="8.4" ry="8.4" fill="#5a8bbd"/>
</svg>
<div class="t" id="l0" style="left:26px;top:65.1px;font-size:13px;font-weight:700;color:#f39d27;line-height:13px;transform:scaleX(0.9658)">SEATTLE</div>
<div class="t" id="l1" style="left:26px;top:80.3px;font-size:13px;font-weight:700;color:#15151f;line-height:13px;transform:scaleX(1.0086)">8,398/sq. mi.</div>
<div class="t" id="l2" style="left:26px;top:95.4px;font-size:13px;font-weight:700;color:#15151f;line-height:13px;transform:scaleX(0.9102)">Georgetown Crossroads</div>
<div class="t" id="l3" style="left:26px;top:110.8px;font-size:13px;font-weight:700;color:#15151f;line-height:13px;transform:scaleX(0.9135)">Developer: Prologis</div>
<div class="t" id="l4" style="left:26px;top:165.0px;font-size:13px;font-weight:700;color:#f39d27;line-height:13px;transform:scaleX(0.9488)">SAN FRANCISCO</div>
<div class="t" id="l5" style="left:26px;top:180.7px;font-size:13px;font-weight:700;color:#15151f;line-height:13px;transform:scaleX(0.9777)">18,569/sq. mi.</div>
<div class="t" id="l6" style="left:26px;top:196.0px;font-size:13px;font-weight:700;color:#15151f;line-height:13px;transform:scaleX(0.9457)">Multistory project</div>
<div class="t" id="l7" style="left:26px;top:211.0px;font-size:13px;font-weight:700;color:#15151f;line-height:13px;transform:scaleX(0.93)">proposed</div>
<div class="t" id="l8" style="left:26px;top:296.6px;font-size:13px;font-weight:700;color:#f39d27;line-height:13px;transform:scaleX(0.9191)">LOS ANGELES</div>
<div class="t" id="l9" style="left:26px;top:311.5px;font-size:13px;font-weight:700;color:#15151f;line-height:13px;transform:scaleX(1.0086)">8,483/sq. mi.</div>
<div class="t" id="l10" style="left:103px;top:354.0px;font-size:13px;font-weight:700;color:#f39d27;line-height:13px;transform:scaleX(0.9781)">DALLAS/FT. WORTH</div>
<div class="t" id="l11" style="left:103px;top:369.9px;font-size:13px;font-weight:700;color:#15151f;line-height:13px;transform:scaleX(0.9693)">3,871/sq. mi.</div>
<div class="t" id="l12" style="left:409.5px;top:115.6px;font-size:13px;font-weight:700;color:#f39d27;line-height:13px;transform:scaleX(0.9554)">CHICAGO</div>
<div class="t" id="l13" style="left:409.5px;top:130.5px;font-size:13px;font-weight:700;color:#15151f;line-height:13px;transform:scaleX(0.9662)">11,898/sq. mi.</div>
<div class="t" id="l14" style="left:480px;top:65.2px;font-size:13px;font-weight:700;color:#f39d27;line-height:13px;transform:scaleX(0.9341)">BROOKLYN &amp; BRONX NY: 3 PROJECTS</div>
<div class="t" id="l15" style="left:480px;top:79.7px;font-size:13px;font-weight:700;color:#15151f;line-height:13px;transform:scaleX(0.9123)">Developers: Prologis, DHIPH Goldman Sachs,</div>
<div class="t" id="l16" style="left:480px;top:94.6px;font-size:13px;font-weight:700;color:#15151f;line-height:13px;transform:scaleX(0.939)">Innovo Property Group/Square Mile Capital, Dov Hertz</div>
<div class="t" id="l17" style="left:657.6px;top:247.0px;font-size:13px;font-weight:700;color:#f39d27;line-height:13px;transform:scaleX(0.9398)">NEW YORK CITY</div>
<div class="t" id="l18" style="left:657.6px;top:262.7px;font-size:13px;font-weight:700;color:#15151f;line-height:13px;transform:scaleX(0.9717)">28,210/sq. mi.</div>
<div class="t" id="l19" style="left:657.3px;top:332.8px;font-size:13px;font-weight:700;color:#f39d27;line-height:13px;transform:scaleX(0.9472)">ATLANTA</div>
<div class="t" id="l20" style="left:657.3px;top:347.7px;font-size:13px;font-weight:700;color:#15151f;line-height:13px;transform:scaleX(0.9693)">3,547/sq. mi.</div>
<div class="t" id="l21" style="left:449.5px;top:417.8px;font-size:13px;font-weight:700;color:#f39d27;line-height:13px;transform:scaleX(0.9781)">HOUSTON</div>
<div class="t" id="l22" style="left:449.5px;top:433.9px;font-size:13px;font-weight:700;color:#15151f;line-height:13px;transform:scaleX(0.9955)">3,843/sq. mi.</div>
<div class="t" id="l23" style="left:657.3px;top:417.8px;font-size:13px;font-weight:700;color:#f39d27;line-height:13px;transform:scaleX(1.0121)">MIAMI</div>
<div class="t" id="l24" style="left:657.3px;top:433.9px;font-size:13px;font-weight:700;color:#15151f;line-height:13px;transform:scaleX(0.9777)">12,603/sq. mi.</div>
<div class="t" id="l25" style="left:61.5px;top:503.0px;font-size:13px;font-weight:700;color:#15151f;line-height:13px;transform:scaleX(0.9591);-webkit-text-stroke:0.3px #15151f">Markets with multistory development underway</div>
<div class="t" id="l26" style="left:61.5px;top:527.5px;font-size:13px;font-weight:700;color:#15151f;line-height:13px;transform:scaleX(0.9659);-webkit-text-stroke:0.3px #15151f">Potential markets for multistory development</div>
<div class="t" id="l27" style="left:699.5px;top:527.7px;font-size:11px;font-weight:400;color:#2a2a30;line-height:11px;transform:scaleX(0.9441)">Source: CBRE</div>
</body></html>
